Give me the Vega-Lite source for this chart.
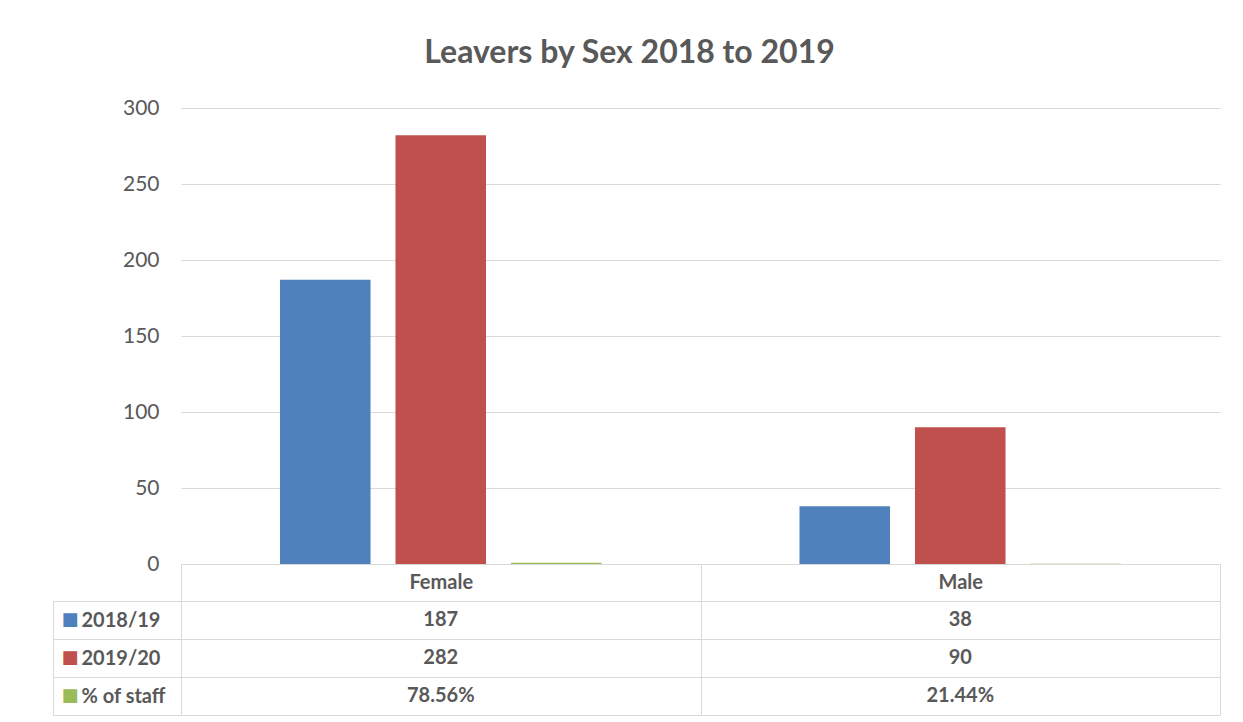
{
  "$schema": "https://vega.github.io/schema/vega-lite/v6.json",
  "padding": {"left": 52, "top": 37, "right": 5, "bottom": 5},
  "background": "white",
  "title": {"text": "Leavers by Sex 2018 to 2019", "fontSize": 32, "fontWeight": "bold", "color": "#595959", "font": "Lato", "anchor": "middle", "offset": 27, "dx": -7},
  "data": {"values": [
    {"sex": "Female", "series": "2018/19", "value": 187, "text": "187"},
    {"sex": "Female", "series": "2019/20", "value": 282, "text": "282"},
    {"sex": "Female", "series": "% of staff", "value": 0.7856, "text": "78.56%"},
    {"sex": "Male", "series": "2018/19", "value": 38, "text": "38"},
    {"sex": "Male", "series": "2019/20", "value": 90, "text": "90"},
    {"sex": "Male", "series": "% of staff", "value": 0.2144, "text": "21.44%"}
  ]},
  "bounds": "flush",
  "spacing": 37,
  "vconcat": [
    {
      "width": 1039,
      "height": 456,
      "mark": {"type": "bar"},
      "encoding": {
        "x": {"field": "sex", "type": "nominal",
          "scale": {"domain": ["Female", "Male"], "paddingInner": 0, "paddingOuter": 0},
          "axis": {"title": null, "orient": "bottom", "labelAngle": 0, "tickBand": "extent", "tickSize": 37, "tickColor": "#D9D9D9", "domainColor": "#D9D9D9", "labelFontSize": 20, "labelFontWeight": "bold", "labelColor": "#595959", "labelBaseline": "middle", "labelPadding": -19, "grid": false}},
        "xOffset": {"field": "series", "type": "nominal",
          "scale": {"domain": ["2018/19", "2019/20", "% of staff"], "paddingInner": 0.216, "paddingOuter": 0.857}},
        "y": {"field": "value", "type": "quantitative",
          "scale": {"domain": [0, 300]},
          "axis": {"title": null, "values": [0, 50, 100, 150, 200, 250, 300], "grid": true, "gridColor": "#D9D9D9", "domain": false, "ticks": false, "labelFontSize": 21, "labelColor": "#595959", "labelPadding": 22}},
        "color": {"field": "series", "type": "nominal",
          "scale": {"domain": ["2018/19", "2019/20", "% of staff"], "range": ["#4F81BD", "#C0504D", "#9BBB59"]},
          "legend": null}
      }
    },
    {
      "width": 1039,
      "height": 114,
      "layer": [
        {
          "mark": {"type": "text", "fontSize": 20, "fontWeight": "bold", "color": "#595959"},
          "encoding": {
            "x": {"field": "sex", "type": "nominal",
              "scale": {"domain": ["Female", "Male"], "paddingInner": 0, "paddingOuter": 0},
              "axis": {"title": null, "labels": false, "ticks": false, "domain": false, "grid": true, "tickBand": "extent", "gridColor": "#D9D9D9"}},
            "y": {"field": "series", "type": "nominal",
              "scale": {"domain": ["2018/19", "2019/20", "% of staff"], "paddingInner": 0, "paddingOuter": 0},
              "axis": {"title": null, "grid": true, "tickBand": "extent", "gridColor": "#D9D9D9", "ticks": true, "tickSize": 128, "tickColor": "#D9D9D9", "domain": false, "labelAlign": "left", "labelPadding": -28, "labelFontSize": 20, "labelFontWeight": "bold", "labelColor": "#595959"}},
            "text": {"field": "text"}
          }
        },
        {
          "mark": {"type": "text", "text": ""},
          "encoding": {
            "y": {"field": "series", "type": "nominal",
              "axis": {"title": null, "orient": "left", "offset": 128, "grid": false, "ticks": false, "domain": true, "domainColor": "#D9D9D9", "labelExpr": "'■'", "labelColor": {"expr": "datum.value === '2018/19' ? '#4F81BD' : datum.value === '2019/20' ? '#C0504D' : '#9BBB59'"}, "labelAlign": "left", "labelPadding": -8, "labelFont": "DejaVu Sans", "labelFontSize": 18}}
          }
        }
      ],
      "resolve": {"axis": {"y": "independent"}}
    }
  ],
  "config": {
    "font": "Lato",
    "view": {"stroke": null}
  }
}
